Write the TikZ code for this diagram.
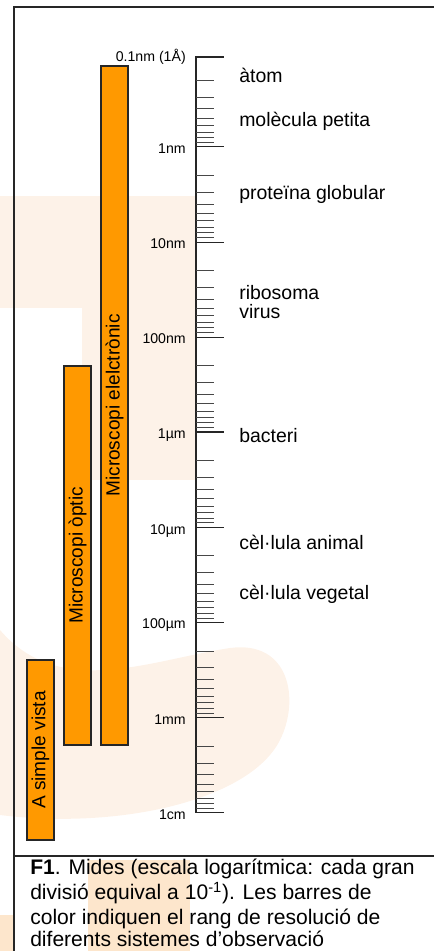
\documentclass[tikz,border=0pt]{standalone}
\usepackage{fontspec}
\setmainfont{Liberation Sans}
\definecolor{barorange}{HTML}{FF9900}
\definecolor{wmfaint}{HTML}{FDF2E8}
\definecolor{wmmid}{HTML}{FDE6CC}
\definecolor{ink}{HTML}{262626}
\begin{document}
\begin{tikzpicture}[x=0.75pt,y=-0.75pt,
  frame/.style={draw=ink, line width=1.1pt},
  axisline/.style={draw=ink, line width=1.1pt},
  majortick/.style={draw=ink, line width=1pt},
  minortick/.style={draw=ink!85, line width=0.7pt},
  bar/.style={draw=ink, line width=0.8pt, fill=barorange, rotate=90, inner sep=0pt,
    font=\fontsize{14.3}{16}\selectfont},
  ticklabel/.style={anchor=base east, inner sep=0pt, font=\fontsize{10.6}{12}\selectfont},
  thing/.style={anchor=base west, inner sep=0pt, font=\fontsize{14.6}{17}\selectfont},
  caption/.style={anchor=base west, inner sep=0pt, font=\fontsize{15.8}{19}\selectfont}]
\useasboundingbox (0,0) rectangle (434,951);
% faint watermark
\fill[wmfaint] (0,196) rectangle (197,308);
\fill[wmfaint] (82,308) rectangle (197,480);
\fill[wmfaint] (0,630) .. controls (60,700) and (150,660) .. (230,648)
  .. controls (290,640) and (300,700) .. (280,740)
  .. controls (250,800) and (120,830) .. (0,815) -- cycle;
\fill[wmmid] (88,860) rectangle (190,951);
\fill[wmmid] (0,915) rectangle (13,951);
% frame
\draw[frame] (14,951) -- (14,7) -- (434,7);
\draw[frame] (14,856) -- (434,856);
% scale
\draw[axisline] (196,57) -- (196,812.7);
\foreach \k in {0,...,7} {
  \foreach \n in {2,...,9} {
    \draw[minortick] (196,{51.6+95.14*\k+95.14*ln(\n)/ln(10)}) -- ++(18,0);
  }
}
\foreach \y in {57, 146.7, 242.3, 337.3, 432, 527.7, 622.3, 717.7, 812.7} {
  \draw[majortick] (195,\y) -- (224,\y);
}
\node[ticklabel] (t0) at (186,61) {0.1nm (1Å)};
\node[ticklabel] (t1) at (186,153.2) {1nm};
\node[ticklabel] (t2) at (186,248.8) {10nm};
\node[ticklabel] (t3) at (186,343.8) {100nm};
\node[ticklabel] (t4) at (186,438.5) {1µm};
\node[ticklabel] (t5) at (186,534.2) {10µm};
\node[ticklabel] (t6) at (186,628.8) {100µm};
\node[ticklabel] (t7) at (186,724.2) {1mm};
\node[ticklabel] (t8) at (186,819.2) {1cm};
% objects
\node[thing] (atom) at (239,82) {àtom};
\node[thing] (mol) at (239,126) {molècula petita};
\node[thing] (prot) at (239,199) {proteïna globular};
\node[thing] (ribo) at (239,299) {ribosoma};
\node[thing] (vir) at (239,318.5) {virus};
\node[thing] (bact) at (239,442) {bacteri};
\node[thing] (anim) at (239,549) {cèl·lula animal};
\node[thing] (veg) at (239,599) {cèl·lula vegetal};
% bars
\node[bar, minimum width=509.25pt, minimum height=20.25pt] (elec) at (114.5,405.5) {Microscopi elelctrònic};
\node[bar, minimum width=284.25pt, minimum height=20.25pt] (opt) at (77.5,555.5) {Microscopi òptic};
\node[bar, minimum width=135pt, minimum height=20.25pt] (eye) at (40.5,750) {A simple vista};
% caption
\node[caption] (c1) at (30,874) {\textbf{F1}. Mides (escala logarítmica: cada gran};
\node[caption] (c2) at (30,899) {divisió equival a 10\textsuperscript{-1}). Les barres de};
\node[caption] (c3) at (30,924) {color indiquen el rang de resolució de};
\node[caption] (c4) at (30,946) {diferents sistemes d’observació};
\end{tikzpicture}
\end{document}
